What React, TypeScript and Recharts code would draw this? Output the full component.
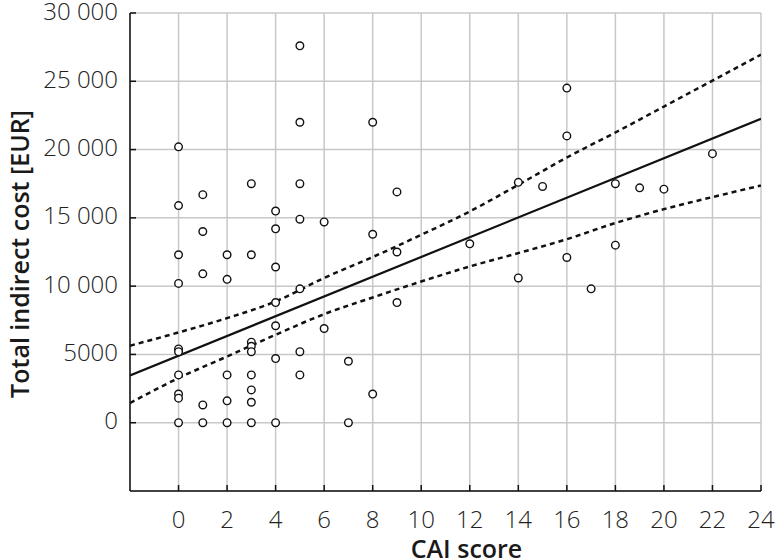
import { ComposedChart, Scatter, Line, XAxis, YAxis, CartesianGrid } from 'recharts'

// observed patients: CAI score vs total indirect cost (EUR)
const caiScore = [
  0, 0, 0, 0, 0, 0, 0, 0, 0, 0,
  1, 1, 1, 1, 1,
  2, 2, 2, 2, 2,
  3, 3, 3, 3, 3, 3, 3, 3, 3,
  4, 4, 4, 4, 4, 4, 4,
  5, 5, 5, 5, 5, 5, 5,
  6, 6,
  7, 7,
  8, 8, 8,
  9, 9, 9,
  12,
  14, 14,
  15,
  16, 16, 16,
  17,
  18, 18,
  19,
  20,
  22
]
const indirectCost = [
  20200, 15900, 12300, 10200, 5400, 5200, 3500, 2100, 1800, 0,
  16700, 14000, 10900, 1300, 0,
  12300, 10500, 3500, 1600, 0,
  17500, 12300, 5900, 5600, 5200, 3500, 2400, 1500, 0,
  15500, 14200, 11400, 8800, 7100, 4700, 0,
  27600, 22000, 17500, 14900, 9800, 5200, 3500,
  14700, 6900,
  4500, 0,
  22000, 13800, 2100,
  16900, 12500, 8800,
  13100,
  17600, 10600,
  17300,
  24500, 21000, 12100,
  9800,
  17500, 13000,
  17200,
  17100,
  19700
]

// regression line and 95% confidence band
const fitX = [-2, 24]
const fitCost = [3460, 22260]
const bandX = [-2, 0, 2, 4, 6, 8, 10, 12, 14, 16, 18, 20, 22, 24]
const upperBand = [5640, 6610, 7660, 8880, 10600, 12130, 13760, 15470, 17420, 19420, 21250, 23150, 25050, 26950]
const lowerBand = [1440, 3270, 4850, 6440, 7950, 9170, 10340, 11440, 12420, 13440, 14620, 15640, 16520, 17370]

const xTicks = [0, 2, 4, 6, 8, 10, 12, 14, 16, 18, 20, 22, 24]
const yTicks = [0, 5000, 10000, 15000, 20000, 25000, 30000]

const points = caiScore.map((x, i) => ({ x, y: indirectCost[i] }))
const fitData = fitX.map((x, i) => ({ x, y: fitCost[i] }))
const upperData = bandX.map((x, i) => ({ x, y: upperBand[i] }))
const lowerData = bandX.map((x, i) => ({ x, y: lowerBand[i] }))

const FONT = '"Open Sans", "Noto Sans", sans-serif'
const INK = '#111'

const fmtCost = (v: number) =>
  v >= 10000 ? `${Math.floor(v / 1000)} ${String(v % 1000).padStart(3, '0')}` : String(v)

const BottomTick = (props: any) => {
  const { x, y, payload } = props
  return (
    <g>
      <line x1={x} x2={x} y1={y} y2={y - 6} stroke={INK} strokeWidth={1.5} />
      <text x={x} y={y + 37} textAnchor="middle" fontFamily={FONT} fontWeight={300} fontSize={24} fill="#222">
        {payload.value}
      </text>
    </g>
  )
}

const LeftTick = (props: any) => {
  const { x, y, payload } = props
  return (
    <g>
      <line x1={x} x2={x + 6} y1={y} y2={y} stroke={INK} strokeWidth={1.5} />
      <text x={x - 12} y={y + 6.5} textAnchor="end" fontFamily={FONT} fontWeight={300} fontSize={24} fill="#222">
        {fmtCost(payload.value)}
      </text>
    </g>
  )
}

const TopTick = (props: any) => {
  const { x, y } = props
  return <line x1={x} x2={x} y1={y} y2={y + 6} stroke={INK} strokeWidth={1.5} />
}

const RightTick = (props: any) => {
  const { x, y } = props
  return <line x1={x} x2={x - 6} y1={y} y2={y} stroke={INK} strokeWidth={1.5} />
}

const Dot = (props: any) => {
  const { cx, cy } = props
  return <circle cx={cx} cy={cy} r={3.8} fill="#fff" stroke={INK} strokeWidth={1.4} />
}

export default function App() {
  return (
    <div style={{ position: 'absolute', left: 0, top: 0, background: '#fff' }}>
      <ComposedChart width={775} height={560} margin={{ top: 13, right: 14, bottom: 0, left: 0 }}>
        <CartesianGrid stroke="#c8c8c8" strokeWidth={1.5} />
        <XAxis
          dataKey="x"
          type="number"
          domain={[-2, 24]}
          ticks={xTicks}
          allowDataOverflow
          height={69}
          tickSize={0}
          tickMargin={0}
          tickLine={false}
          tick={<BottomTick />}
          axisLine={{ stroke: INK, strokeWidth: 1.5 }}
          label={{
            value: 'CAI score',
            content: ({ viewBox }: any) => (
              <text
                x={viewBox.x + viewBox.width / 2 + 21}
                y={viewBox.y + 67}
                textAnchor="middle"
                fontFamily={FONT}
                fontWeight={600}
                fontSize={25}
                fill="#1a1a1a"
              >
                CAI score
              </text>
            )
          }}
        />
        <XAxis
          xAxisId="top"
          orientation="top"
          type="number"
          domain={[-2, 24]}
          ticks={xTicks}
          allowDataOverflow
          height={0}
          tickSize={0}
          tickMargin={0}
          tickLine={false}
          tick={<TopTick />}
          axisLine={{ stroke: INK, strokeWidth: 1.5 }}
        />
        <YAxis
          type="number"
          domain={[-5000, 30000]}
          ticks={yTicks}
          allowDataOverflow
          width={130}
          tickSize={0}
          tickMargin={0}
          tickLine={false}
          tick={<LeftTick />}
          axisLine={{ stroke: INK, strokeWidth: 1.5 }}
          label={{
            value: 'Total indirect cost [EUR]',
            content: ({ viewBox }: any) => {
              const cx = viewBox.x + 19
              const cy = viewBox.y + viewBox.height / 2 + 2
              return (
                <text
                  x={cx}
                  y={cy}
                  transform={`rotate(-90 ${cx} ${cy})`}
                  textAnchor="middle"
                  dominantBaseline="central"
                  fontFamily={FONT}
                  fontWeight={600}
                  fontSize={25}
                  fill="#1a1a1a"
                >
                  Total indirect cost [EUR]
                </text>
              )
            }
          }}
        />
        <YAxis
          yAxisId="right"
          orientation="right"
          type="number"
          domain={[-5000, 30000]}
          ticks={yTicks}
          allowDataOverflow
          width={0}
          tickSize={0}
          tickMargin={0}
          tickLine={false}
          tick={<RightTick />}
          axisLine={{ stroke: INK, strokeWidth: 1.5 }}
        />
        <Line data={upperData} dataKey="y" type="monotone" stroke={INK} strokeWidth={2.5} strokeDasharray="5 4" dot={false} isAnimationActive={false} />
        <Line data={lowerData} dataKey="y" type="monotone" stroke={INK} strokeWidth={2.5} strokeDasharray="5 4" dot={false} isAnimationActive={false} />
        <Line data={fitData} dataKey="y" type="linear" stroke={INK} strokeWidth={2.2} dot={false} isAnimationActive={false} />
        <Scatter data={points} dataKey="y" shape={<Dot />} isAnimationActive={false} />
      </ComposedChart>
    </div>
  )
}
